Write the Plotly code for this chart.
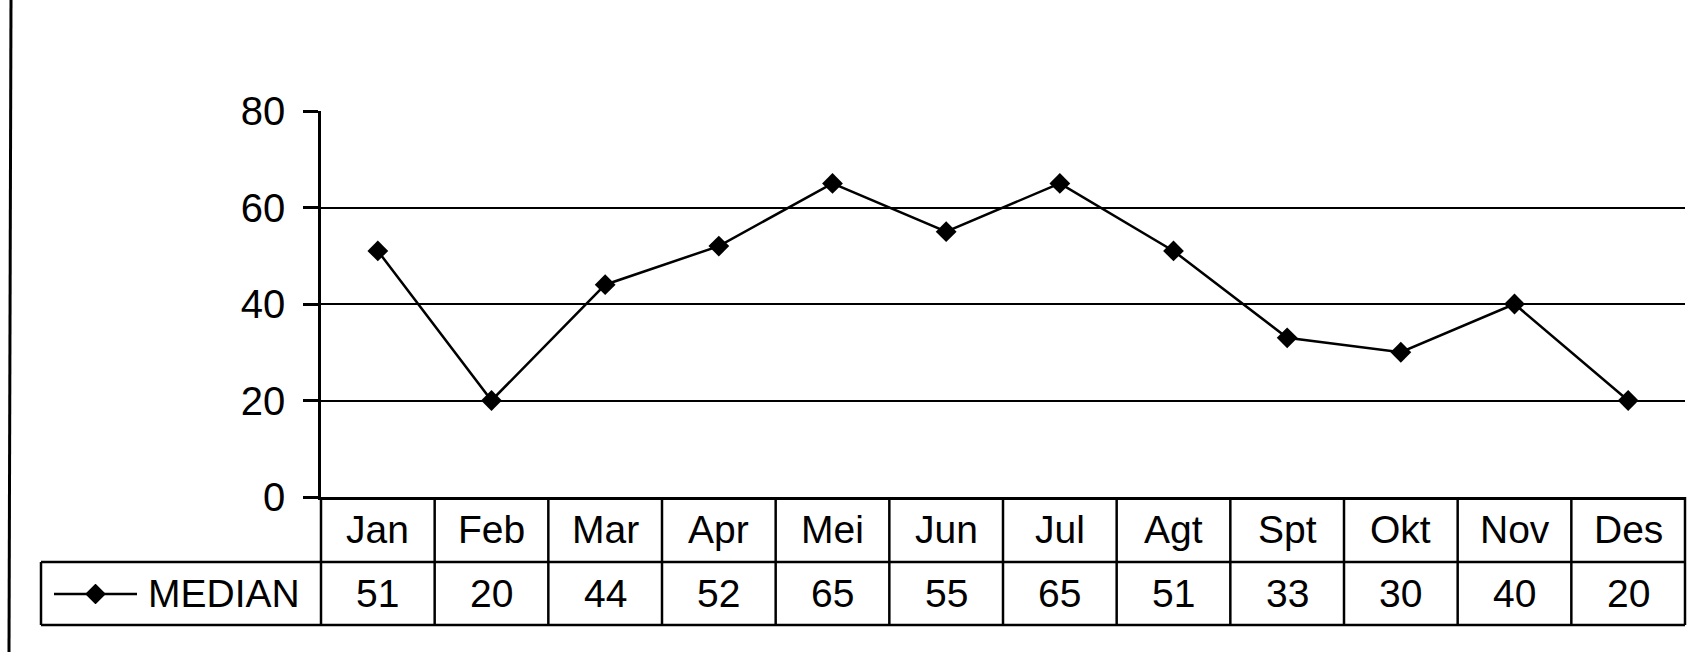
import plotly.graph_objects as go

months = ["Jan", "Feb", "Mar", "Apr", "Mei", "Jun", "Jul", "Agt", "Spt", "Okt", "Nov", "Des"]
median = [51, 20, 44, 52, 65, 55, 65, 51, 33, 30, 40, 20]
y_ticks = [0, 20, 40, 60, 80]
grid_vals = [20, 40, 60]
series_name = "MEDIAN"

W, H = 1705, 652
FONT = "Liberation Sans, Arial, sans-serif"

def px(x):
    return x / W

def py(y):
    return 1 - y / H

# plot area in pixels
PL, PR, PT, PB = 321, 1685, 111, 497
ROW1_B, ROW2_B = 562, 625
TAB_L = 41

fig = go.Figure()
fig.add_trace(go.Scatter(
    x=months, y=median, mode="lines+markers",
    line=dict(color="black", width=2.5),
    marker=dict(symbol="diamond", size=16, color="black"),
    showlegend=False, xaxis="x", yaxis="y",
))
# legend glyph in the table's first cell
fig.add_trace(go.Scatter(
    x=[0, 1], y=[0, 0], mode="lines",
    line=dict(color="black", width=2.5),
    showlegend=False, xaxis="x3", yaxis="y3", hoverinfo="skip",
))
fig.add_trace(go.Scatter(
    x=[0.5], y=[0], mode="markers",
    marker=dict(symbol="diamond", size=16, color="black"),
    showlegend=False, xaxis="x3", yaxis="y3", hoverinfo="skip",
))

shapes = []
n = len(months)
lw = 2.5
# vertical separators of the table
for i in range(n + 1):
    shapes.append(dict(type="line", xref="x domain", yref="paper",
                       x0=i / n, x1=i / n, y0=py(PB), y1=py(ROW2_B),
                       line=dict(color="black", width=lw)))
# horizontal table lines
shapes.append(dict(type="line", xref="paper", yref="paper",
                   x0=px(TAB_L), x1=px(PR), y0=py(ROW1_B), y1=py(ROW1_B),
                   line=dict(color="black", width=lw)))
shapes.append(dict(type="line", xref="paper", yref="paper",
                   x0=px(TAB_L), x1=px(PR), y0=py(ROW2_B), y1=py(ROW2_B),
                   line=dict(color="black", width=lw)))
shapes.append(dict(type="line", xref="paper", yref="paper",
                   x0=px(TAB_L), x1=px(TAB_L), y0=py(ROW1_B), y1=py(ROW2_B),
                   line=dict(color="black", width=lw)))
# page left border line
shapes.append(dict(type="line", xref="paper", yref="paper",
                   x0=px(11), x1=px(9), y0=1, y1=0,
                   line=dict(color="black", width=3)))

annotations = []
for m, v in zip(months, median):
    annotations.append(dict(x=m, xref="x", y=py((PB + ROW1_B) / 2), yref="paper",
                            text=m, showarrow=False, xanchor="center", yanchor="middle",
                            font=dict(family=FONT, size=39, color="black")))
    annotations.append(dict(x=m, xref="x", y=py((ROW1_B + ROW2_B) / 2), yref="paper",
                            text=str(v), showarrow=False, xanchor="center", yanchor="middle",
                            font=dict(family=FONT, size=39, color="black")))
annotations.append(dict(x=px(146), xref="paper", y=py((ROW1_B + ROW2_B) / 2), yref="paper",
                        text=series_name, showarrow=False, xanchor="left", yanchor="middle",
                        font=dict(family=FONT, size=39, color="black")))

fig.update_layout(
    width=W, height=H,
    margin=dict(l=0, r=0, t=0, b=0),
    paper_bgcolor="white", plot_bgcolor="rgba(0,0,0,0)",
    showlegend=False,
    xaxis=dict(domain=[px(PL), px(PR)], type="category", range=[-0.5, n - 0.5],
               showticklabels=False, ticks="", showgrid=False, zeroline=False,
               showline=True, linecolor="black", linewidth=lw, automargin=False,
               fixedrange=True),
    yaxis=dict(domain=[py(PB), py(PT)], range=[0, 80], tickvals=y_ticks,
               ticks="outside", ticklen=15, tickwidth=lw, tickcolor="black",
               showgrid=False, zeroline=False, showline=True, linecolor="black",
               linewidth=lw, ticklabelstandoff=10, automargin=False,
               tickfont=dict(family=FONT, size=40, color="black")),
    yaxis2=dict(domain=[py(PB), py(PT)], range=[0, 80], overlaying="y",
                tickvals=grid_vals, showticklabels=False, ticks="",
                showgrid=True, gridcolor="black", gridwidth=2.2, zeroline=False,
                showline=False, automargin=False),
    xaxis3=dict(domain=[px(54), px(137)], range=[0, 1], visible=False, anchor="y3"),
    yaxis3=dict(domain=[py(604), py(584)], range=[-1, 1], visible=False, anchor="x3"),
    shapes=shapes,
    annotations=annotations,
)
# attach an invisible trace to yaxis2 so its grid renders
fig.add_trace(go.Scatter(x=[months[0]], y=[0], mode="markers", marker=dict(opacity=0),
                         xaxis="x", yaxis="y2", showlegend=False, hoverinfo="skip"))

fig.write_html("out.html")
